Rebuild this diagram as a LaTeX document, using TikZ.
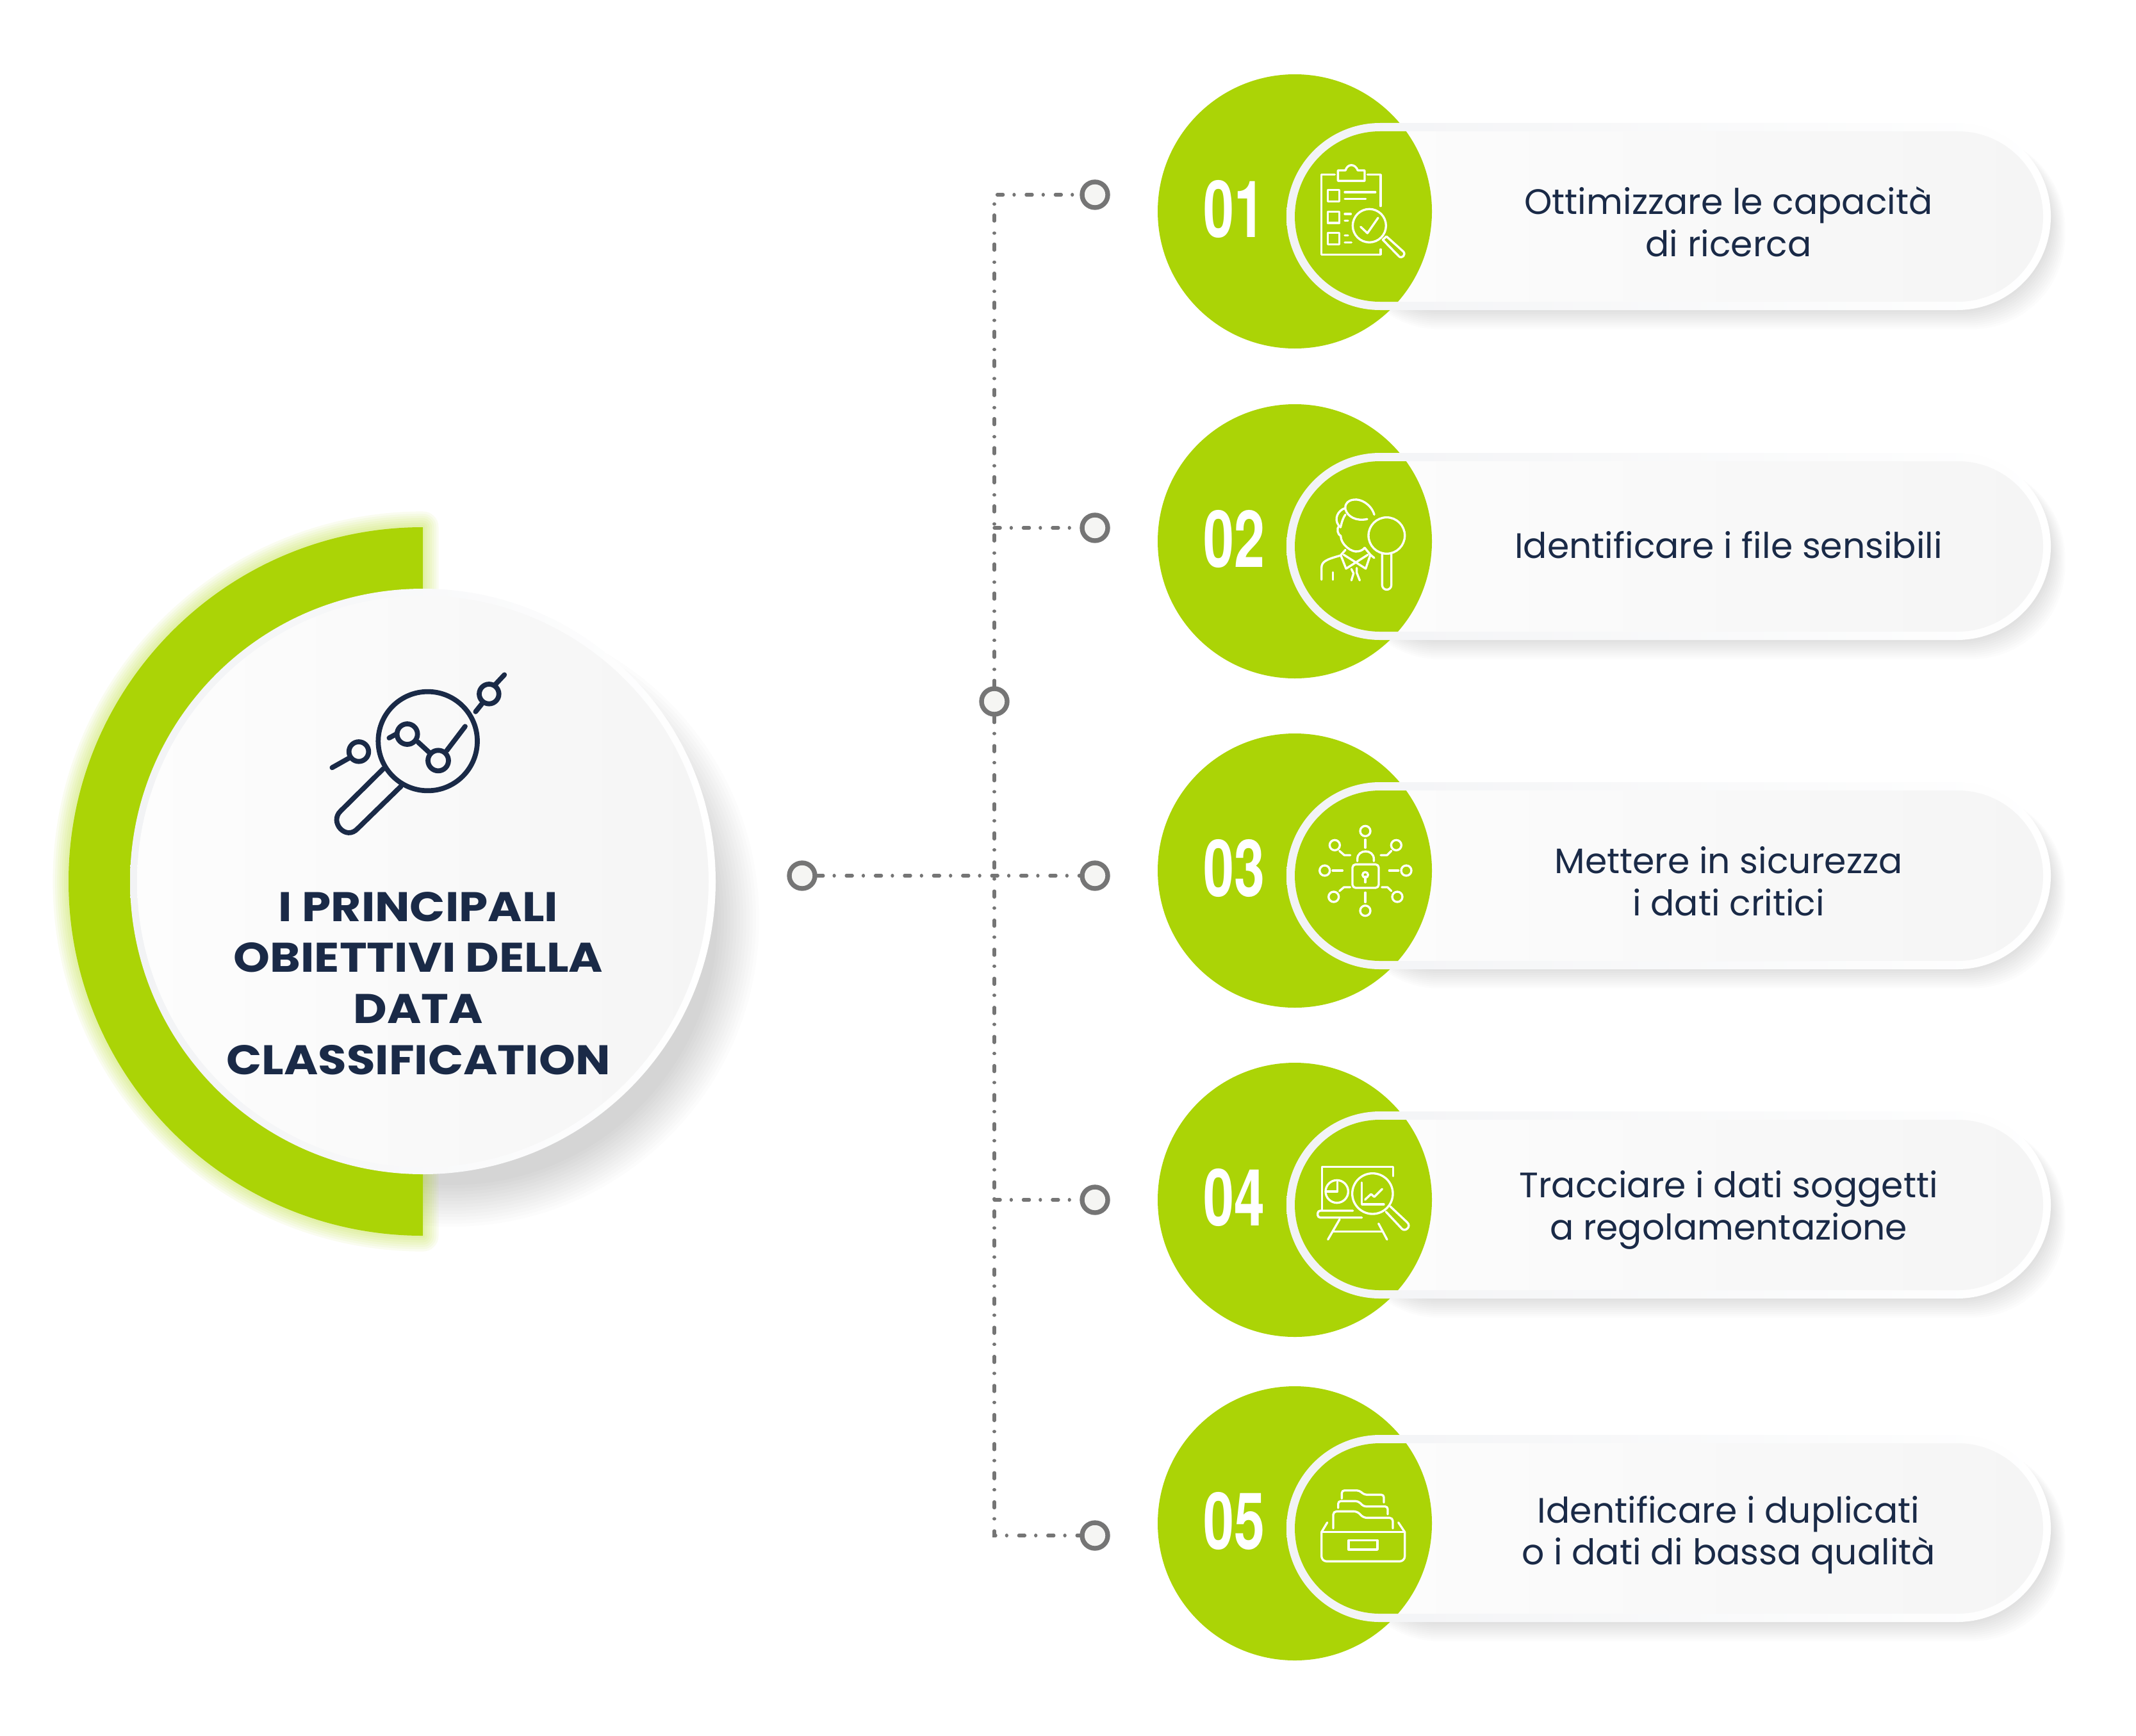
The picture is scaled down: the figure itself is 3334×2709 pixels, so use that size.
\documentclass[tikz,border=0pt]{standalone}
\usepackage{fontspec}
\usepackage{graphicx}
\usetikzlibrary{positioning}
\newfontfamily\labelFont{Poppins}
\newfontfamily\titleFont[FakeStretch=1.12]{Poppins}
\newfontfamily\numberFont{TeX Gyre Heros}
\definecolor{discGreen}{HTML}{ABD406}
\definecolor{inkBlue}{HTML}{1A2A47}
\definecolor{dotGray}{HTML}{757575}
\definecolor{dotFill}{HTML}{F5F5F3}
\definecolor{rimLeft}{HTML}{F2F3F5}
\definecolor{faceLeft}{HTML}{FDFDFD}
\definecolor{faceRight}{HTML}{F5F5F5}
\tikzstyle{sheet} = [x = 0.01cm, y = -0.01cm]
\tikzstyle{dotNode} = [circle, draw=dotGray, fill=dotFill, line width=2.1pt, minimum size=.4cm, inner sep=0pt]
\tikzstyle{linkLine} = [color=dotGray, line width=1.5pt, line cap=round, dash pattern=on 2.6pt off 4.9pt on 0.01pt off 5.4pt]
\tikzstyle{iconLine} = [color=white, line width=.95pt, line cap=round, line join=round]
\tikzstyle{mainIconLine} = [color=inkBlue, line width=2.2pt, line cap=round, line join=round]
\tikzstyle{rimShade} = [left color=rimLeft, right color=white]
\tikzstyle{faceShade} = [left color=faceLeft, right color=faceRight]
\tikzstyle{pillText} = [font=\labelFont\fontsize{15.7}{18.7}\selectfont, text=inkBlue, align=center]
\tikzstyle{titleText} = [font=\titleFont\bfseries\fontsize{18.4}{22.7}\selectfont, text=inkBlue, align=center]
\tikzstyle{numberText} = [font=\numberFont\bfseries\fontsize{35}{35}\selectfont, text=white, inner sep=0pt]
\newcommand{\iconClipboard}[2]{
  \begin{scope}[shift={(#1,#2)}, scale=1/3, iconLine]
    \draw (190,158) -- (128,158) -- (128,532) -- (405,532) -- (405,508);
    \draw (343,158) -- (405,158) -- (405,305);
    \draw (205,187) -- (205,138) -- (240,138) .. controls (250,105) and (285,105) .. (298,138) -- (330,138) -- (330,187) -- cycle;
    \foreach \boxTop in {230,331,431}
      \draw (157,\boxTop) rectangle +(55,53);
    \draw (237,240) -- (380,240);
    \draw (237,271) -- (335,271);
    \draw (237,342) -- (265,342);
    \draw (237,373) -- (252,373);
    \draw (237,442) -- (252,442);
    \draw (237,475) -- (268,475);
    \draw (352,397) circle [radius=78];
    \draw (311,402) -- (343,432) -- (393,360);
    \draw (415,463) -- (432,447) -- (511,518) .. controls (525,532) and (505,555) .. (490,540) -- cycle;
  \end{scope}
}
\newcommand{\iconPerson}[2]{
  \begin{scope}[shift={(#1,#2)}, scale=1/3, iconLine]
    \draw (433,288) circle [radius=85];
    \draw (412,372) -- (412,520) arc [start angle=180, end angle=0, radius=21.5] -- (455,372);
    \draw (375,190) .. controls (360,140) and (310,115) .. (280,120) .. controls (250,122) and (235,145) .. (240,165) .. controls (250,200) and (290,222) .. (342,211);
    \draw (238,160) .. controls (205,170) and (185,210) .. (208,240);
    \draw (240,190) .. controls (225,210) and (220,240) .. (217,250);
    \draw (212,243) .. controls (195,255) and (205,285) .. (218,290) .. controls (218,330) and (270,370) .. (300,362) .. controls (315,360) and (325,352) .. (330,345);
    \draw (240,355) -- (218,380) -- (243,443) -- (345,378);
    \draw (330,345) -- (357,378) -- (335,443) -- (232,378);
    \draw (128,495) -- (128,440) .. controls (128,410) and (150,400) .. (215,382);
    \draw (357,378) -- (375,393);
    \draw (182,460) -- (182,495);
    \draw (268,445) -- (278,465) -- (268,498);
    \draw (293,440) -- (293,462) -- (307,498);
  \end{scope}
}
\newcommand{\iconLock}[2]{
  \begin{scope}[shift={(#1,#2)}, scale=1/3, iconLine]
    \draw [rounded corners=.05cm] (273,268) rectangle (396,378);
    \draw (296,253) -- (296,243) .. controls (296,195) and (373,195) .. (373,243) -- (373,253);
    \draw (333,317) circle [radius=13];
    \draw (333,325) -- (333,352);
    \foreach \nodeX/\nodeY in {333/112, 190/178, 478/178, 143/297, 525/297, 185/420, 483/420, 333/485}
      \draw (\nodeX,\nodeY) circle [radius=24];
    \draw (333,152) -- (333,190);
    \draw (333,400) -- (333,445);
    \draw (180,297) -- (226,297);
    \draw (445,297) -- (488,297);
    \draw (212,205) -- (235,225) -- (263,225);
    \draw (455,205) -- (435,225) -- (405,225);
    \draw (212,393) -- (233,375) -- (262,375);
    \draw (455,393) -- (437,375) -- (410,375);
  \end{scope}
}
\newcommand{\iconBoard}[2]{
  \begin{scope}[shift={(#1,#2)}, scale=1/3, iconLine]
    \draw (130,325) -- (130,125) -- (463,125) -- (463,168);
    \draw [rounded corners=.04cm] (275,330) -- (110,330) -- (110,362) -- (317,362);
    \draw (200,240) circle [radius=53];
    \draw (203,195) -- (203,240) -- (150,240);
    \draw (367,250) circle [radius=95];
    \draw (317,198) -- (317,300) -- (420,300);
    \draw (332,278) -- (360,252) -- (375,265) -- (412,228);
    \draw (430,335) -- (505,415) .. controls (520,430) and (550,405) .. (530,385) -- (450,310);
    \draw (213,370) -- (158,465);
    \draw (395,390) -- (435,465);
    \draw (180,428) -- (415,428);
  \end{scope}
}
\newcommand{\iconDrawer}[2]{
  \begin{scope}[shift={(#1,#2)}, scale=1/3, iconLine]
    \draw [rounded corners=.08cm] (128,275) -- (128,412) -- (518,412) -- (518,275);
    \draw (128,275) -- (518,275);
    \draw (128,275) -- (155,230);
    \draw (518,275) -- (488,230);
    \draw (255,313) rectangle (390,357);
    \draw [rounded corners=.05cm] (183,258) -- (183,178) -- (295,178) -- (325,208) -- (462,208) -- (462,258);
    \draw [rounded corners=.04cm] (206,162) -- (206,130) -- (300,130) -- (325,155) -- (438,155) -- (438,192);
    \draw [rounded corners=.04cm] (223,118) -- (223,80) -- (305,80) -- (328,100) -- (420,100) -- (420,136);
  \end{scope}
}
\newcommand{\iconMain}[2]{
  \begin{scope}[shift={(#1,#2)}, scale=1/3, mainIconLine]
    \draw (533,381) circle [radius=232];
    \draw (325,510) -- (125,708) .. controls (70,760) and (150,850) .. (205,790) -- (408,592);
    \draw (437,348) circle [radius=48];
    \draw (582,472) circle [radius=48];
    \draw (820,160) circle [radius=46];
    \draw (210,430) circle [radius=46];
    \draw (352,366) -- (385,348);
    \draw (487,385) -- (538,432);
    \draw (622,425) -- (708,312);
    \draw (757,243) -- (785,208);
    \draw (850,115) -- (892,70);
    \draw (85,505) -- (165,460);
  \end{scope}
}
% #1 disc centre y, #2 number, #3 text, #4 text offset
\newcommand{\objectiveRow}[4]{
  \foreach \spread in {0,3,...,30}
    \fill [black, opacity=.011, rounded corners=1.46cm] (2100,#1-120) rectangle (3201+.75*\spread,#1+154+\spread);
  \fill [discGreen] (2021,#1) circle [radius=214];
  \path [rimShade, rounded corners=1.46cm] (2008,#1-138) rectangle (3201,#1+154);
  \path [faceShade, rounded corners=1.33cm] (2021,#1-125) rectangle (3189,#1+141);
  \begin{scope}
    \clip [rounded corners=1.33cm] (2021,#1-125) rectangle (3189,#1+141);
    \fill [discGreen] (2021,#1) circle [radius=214];
  \end{scope}
  \node [numberText] (number#2) at (1926,#1-4) {\scalebox{.7}[1]{#2}};
  \node [pillText] (label#2) at (2698,#1+#4) {#3};
}
\begin{document}
\begin{tikzpicture}[sheet]
\useasboundingbox (0,0) rectangle (3334,2709);
% big circle on the left
\foreach \spread in {0,5,...,65}
  \fill [black, opacity=.01] (705,1435) circle [radius=415+\spread];
\foreach \glow in {2,4,...,14}
  \draw [discGreen, opacity=.06, line width=\glow pt, line join=round] (660,823) arc [start angle=-90, end angle=-270, radius=553] -- cycle;
\fill [discGreen] (660,823) arc [start angle=-90, end angle=-270, radius=553] -- cycle;
\path [rimShade] (660,1376) circle [radius=457];
\path [faceShade] (660,1376) circle [radius=446];
\iconMain{490}{1030}
\node [titleText] (title) at (653,1535) {I PRINCIPALI\\OBIETTIVI DELLA\\DATA\\CLASSIFICATION};
% rows
\objectiveRow{330}{01}{Ottimizzare le capacità\\di ricerca}{16}
\objectiveRow{845}{02}{Identificare i file sensibili}{6}
\objectiveRow{1359}{03}{Mettere in sicurezza\\i dati critici}{17}
\objectiveRow{1873}{04}{Tracciare i dati soggetti\\a regolamentazione}{16}
\objectiveRow{2378}{05}{Identificare i duplicati\\o i dati di bassa qualità}{18}
\iconClipboard{2020}{220}
\iconPerson{2020}{740}
\iconLock{2020}{1260}
\iconBoard{2020}{1780}
\iconDrawer{2020}{2300}
% connectors
\node [dotNode] (hubLeft) at (1252,1367) {};
\node [dotNode] (hubSpine) at (1552,1095) {};
\node [dotNode] (dotOne) at (1709,304) {};
\node [dotNode] (dotTwo) at (1709,824) {};
\node [dotNode] (dotThree) at (1709,1367) {};
\node [dotNode] (dotFour) at (1709,1873) {};
\node [dotNode] (dotFive) at (1709,2397) {};
\draw [linkLine] (hubLeft) -- (dotThree);
\draw [linkLine] (hubSpine) |- (dotOne);
\draw [linkLine] (hubSpine) |- (dotFive);
\draw [linkLine] (hubSpine |- dotTwo) -- (dotTwo);
\draw [linkLine] (hubSpine |- dotFour) -- (dotFour);
\end{tikzpicture}
\end{document}
